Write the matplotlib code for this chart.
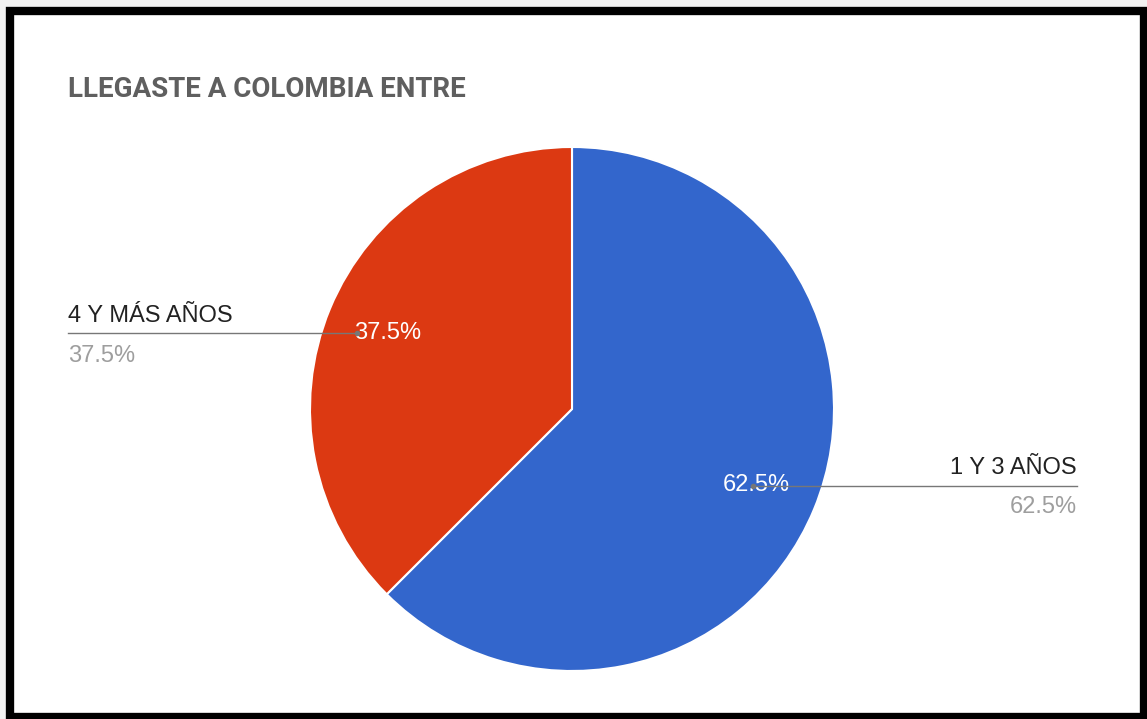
import numpy as np
import matplotlib
matplotlib.use("Agg")
import matplotlib.pyplot as plt
from matplotlib.patches import Rectangle

title = "LLEGASTE A COLOMBIA ENTRE"
categories = ["1 Y 3 AÑOS", "4 Y MÁS AÑOS"]
values = [62.5, 37.5]
colors = ["#3366CC", "#DC3912"]

W, H = 1147, 719
fig = plt.figure(figsize=(W / 100, H / 100), dpi=100)
ax = fig.add_axes([0, 0, 1, 1])
ax.set_xlim(0, W)
ax.set_ylim(0, H)
ax.set_aspect("equal")
ax.axis("off")

def Y(y):
    return H - y

# outer frame
ax.add_patch(Rectangle((0, 0), W, H, facecolor="#f2f2f2", edgecolor="none", zorder=0))
ax.add_patch(Rectangle((10, Y(717)), 1134, 706, facecolor="white", edgecolor="black",
                       linewidth=6, zorder=1))

cx, cy, r = 572, Y(409), 262
wedges, _ = ax.pie(values, colors=colors, startangle=90, counterclock=False,
                   center=(cx, cy), radius=r, frame=True,
                   wedgeprops=dict(edgecolor="white", linewidth=1.5), labels=None)
ax.set_xlim(0, W)
ax.set_ylim(0, H)
ax.axis("off")

total = sum(values)
pcts = [f"{v / total * 100:.1f}%" for v in values]

# inner labels at wedge mid-angles
for w, p in zip(wedges, pcts):
    ang = np.deg2rad((w.theta1 + w.theta2) / 2)
    tx = cx + 0.76 * r * np.cos(ang)
    ty = cy + 0.76 * r * np.sin(ang)
    ax.text(tx, ty, p, color="white", fontsize=17, ha="center", va="center",
            family="Liberation Sans", zorder=5)

line_col = "#777777"
# right label (1 Y 3 AÑOS)
ax.plot([753, 1077], [Y(486), Y(486)], color=line_col, lw=1, zorder=6)
ax.plot([753], [Y(486)], "o", color=line_col, ms=3, zorder=6)
ax.text(1077, Y(474), categories[0], ha="right", va="baseline", fontsize=17,
        color="#222222", family="Liberation Sans")
ax.text(1077, Y(513), pcts[0], ha="right", va="baseline", fontsize=17,
        color="#9e9e9e", family="Liberation Sans")

# left label (4 Y MÁS AÑOS)
ax.plot([68, 357], [Y(333), Y(333)], color=line_col, lw=1, zorder=6)
ax.plot([357], [Y(333)], "o", color=line_col, ms=3, zorder=6)
ax.text(68, Y(322), categories[1], ha="left", va="baseline", fontsize=17,
        color="#222222", family="Liberation Sans")
ax.text(68, Y(362), pcts[1], ha="left", va="baseline", fontsize=17,
        color="#9e9e9e", family="Liberation Sans")

ax.text(68, Y(97), title, ha="left", va="baseline", fontsize=20,
        color="#5f5f5f", family="Roboto", fontweight="bold")

fig.savefig("out.png", dpi=100)
